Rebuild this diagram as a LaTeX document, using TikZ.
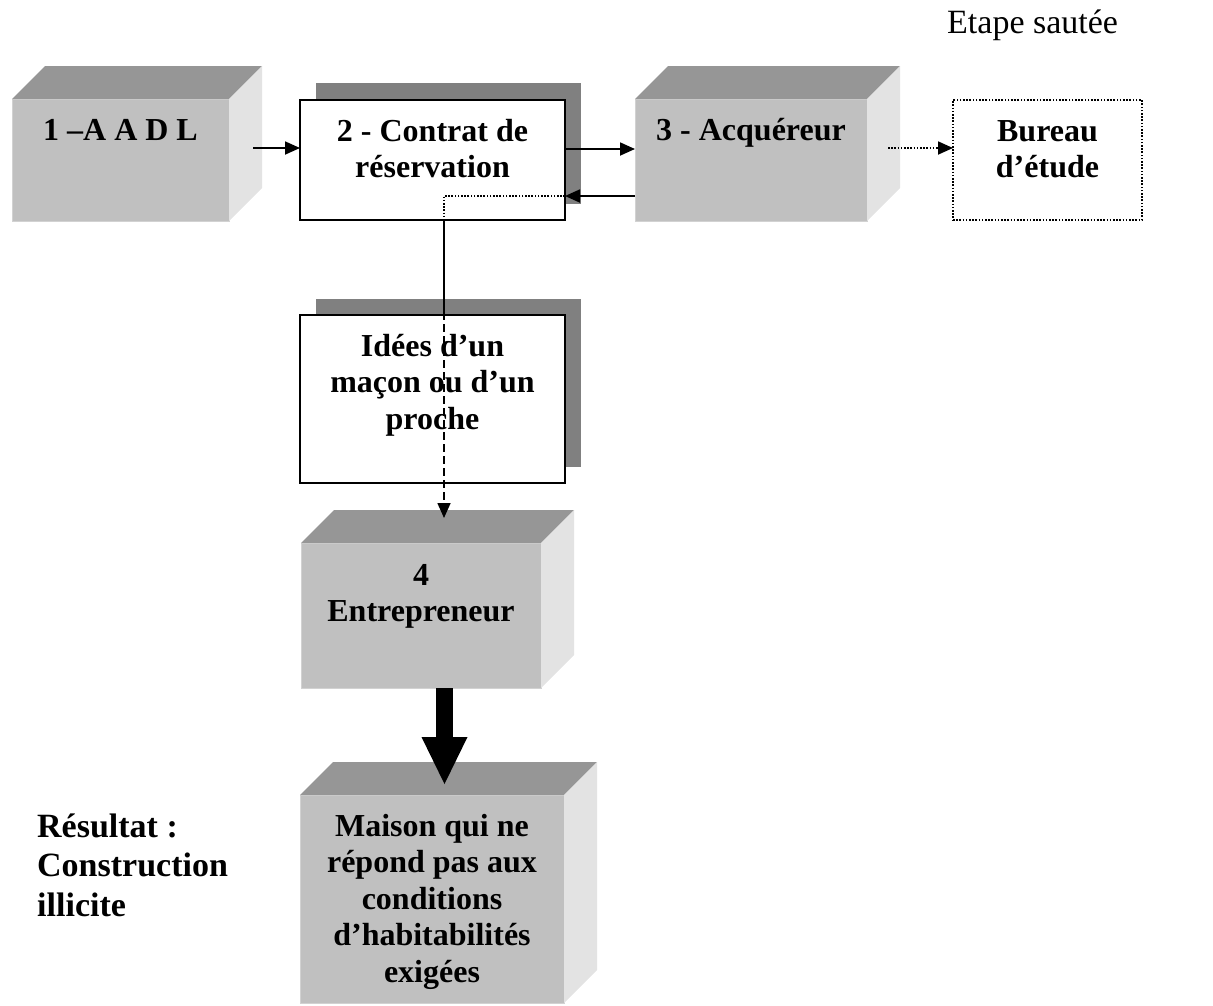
\documentclass[tikz,border=0pt]{standalone}
\usepackage{fontspec}
\setmainfont{Liberation Serif}
\usetikzlibrary{calc,arrows.meta}

\definecolor{frontgray}{HTML}{C0C0C0}
\definecolor{topgray}{HTML}{969696}
\definecolor{sidegray}{HTML}{E3E3E3}
\definecolor{edgegray}{HTML}{D2D2D2}
\definecolor{shadowgray}{HTML}{808080}

% strut that fixes the first baseline of a box label
\newcommand\firstline{\rule{0pt}{28pt}}

\tikzset{
  face/.style={fill=frontgray, draw=edgegray, line width=0.8pt, inner sep=0pt, outer sep=0pt, anchor=north west},
  plainbox/.style={fill=white, draw=black, line width=2pt, inner sep=0pt, outer sep=0pt, anchor=north west},
  dropshadow/.style={fill=shadowgray, draw=none, inner sep=0pt, outer sep=0pt, anchor=north west},
  skipbox/.style={draw=black, line width=1.6pt, dash pattern=on 1.6pt off 1.6pt, inner sep=0pt, outer sep=0pt, anchor=north west},
  boxtext/.style={font=\fontsize{32}{36.5}\selectfont\bfseries, align=center, anchor=north, inner sep=0pt},
  flow/.style={line width=1.8pt, -{Triangle[length=15pt,width=13pt]}},
  skipflow/.style={line width=1.8pt, dash pattern=on 1.6pt off 1.6pt, -{Triangle[length=15pt,width=13pt]}},
}

% a grey block with a top face and a right face (depth 33)
\newcommand\cubebox[5]{%
  \node[face, minimum width=#4pt, minimum height=#5pt] (#1) at (#2,#3) {};
  \fill[topgray] (#1.north west) -- ++(33,-33) -- ($(#1.north east)+(33,-33)$) -- (#1.north east) -- cycle;
  \fill[sidegray] (#1.north east) -- ++(33,-33) -- ($(#1.south east)+(33,-33)$) -- (#1.south east) -- cycle;
}

\begin{document}
\begin{tikzpicture}[x=1pt,y=-1pt]
\useasboundingbox (0,0) rectangle (1213,1005);

% caption of the skipped step
\node[anchor=base west, inner sep=0pt, font=\fontsize{34}{40}\selectfont] (etape) at (947,33) {Etape sautée};

% grey blocks
\cubebox{aadl}{12}{99}{217}{122}
\cubebox{acq}{635}{99}{232}{122}
\cubebox{entre}{301}{543}{240}{145}
\cubebox{maison}{300}{795}{264}{208}

% white boxes with drop shadows
\node[dropshadow, minimum width=265pt, minimum height=121pt] (contrat-sh) at (316,83) {};
\node[plainbox, minimum width=265pt, minimum height=120pt] (contrat) at (300,100) {};
\node[dropshadow, minimum width=265pt, minimum height=168pt] (idees-sh) at (316,299) {};
\node[plainbox, minimum width=265pt, minimum height=168pt] (idees) at (300,315) {};

% skipped step
\node[skipbox, minimum width=189pt, minimum height=120pt] (bureau) at (953,100) {};

% labels
\node[boxtext] (aadl-t) at ($(aadl.north)+(0,13)$) {\firstline 1 –A A D L};
\node[boxtext] (contrat-t) at ($(contrat.north)+(0,13)$) {\firstline 2 - Contrat de\\réservation};
\node[boxtext] (acq-t) at ($(acq.north)+(0,13)$) {\firstline 3 - Acquéreur};
\node[boxtext] (bureau-t) at ($(bureau.north)+(0,13)$) {\firstline Bureau\\d’étude};
\node[boxtext] (idees-t) at ($(idees.north)+(0,13)$) {\firstline Idées d’un\\maçon ou d’un\\proche};
\node[boxtext] (entre-t) at ($(entre.north)+(0,14)$) {\firstline 4\\Entrepreneur};
\node[boxtext] (maison-t) at ($(maison.north)+(0,13)$) {\firstline Maison qui ne\\répond pas aux\\conditions\\d’habitabilités\\exigées};

\node[anchor=north west, inner sep=0pt, align=left, font=\fontsize{34}{39.5}\selectfont\bfseries] (resultat) at (37,807) {\rule{0pt}{30pt}Résultat :\\Construction\\illicite};

% connectors
\coordinate (a1) at ($(aadl.east)+(24,-12)$);
\draw[flow] (a1) -- (contrat.west |- a1);
\coordinate (c1) at ($(contrat.east)+(0,-11)$);
\draw[flow] (c1) -- (acq.west |- c1);
\coordinate (c2) at ($(acq.west)+(0,36)$);
\draw[flow] (c2) -- (contrat.east |- c2);
\coordinate (q1) at ($(acq.east)+(21,-12)$);
\draw[skipflow] (q1) -- (bureau.west |- q1);

% path from the back arrow down to the contractor
\coordinate (bend) at (444,196);
\coordinate (below) at (bend |- contrat.south);
\coordinate (solidend) at (444,312);
\coordinate (tip) at ($(entre.north)+(23,-25)$);
\draw[line width=1.6pt, dash pattern=on 1.6pt off 1.6pt] (contrat.east |- bend) -- (bend) -- (below);
\draw[line width=1.6pt] (below) -- (solidend);
\draw[line width=1.6pt, dash pattern=on 8pt off 4pt, -{Triangle[length=15pt,width=13pt]}] (solidend) -- (tip |- solidend) -- (tip);

% thick arrow to the result
\coordinate (bigbase) at ($(entre.south)+(23.5,0)$);
\coordinate (bigtip) at ($(maison.north)+(12.5,-11)$);
\fill ($(bigbase)+(-8.5,0)$) rectangle ($(bigbase)+(8.5,49)$);
\fill ($(bigbase)+(-23,49)$) -- ($(bigbase)+(23,49)$) -- (bigtip) -- cycle;
\end{tikzpicture}
\end{document}
